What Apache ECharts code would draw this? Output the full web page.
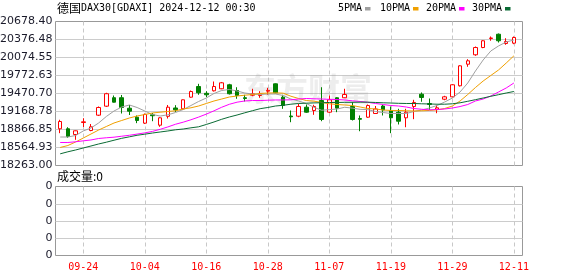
<!DOCTYPE html>
<html><head><meta charset="utf-8">
<script src="https://cdn.jsdelivr.net/npm/echarts@6/dist/echarts.min.js"></script>
<style>html,body{margin:0;padding:0;background:#fff}#c{width:578px;height:276px}</style>
</head><body><div id="c"></div>
<script>
const dates = ['09-19','09-20','09-23','09-24','09-25','09-26','09-27','09-30','10-01','10-02','10-03','10-04','10-07','10-08','10-09','10-10','10-11','10-14','10-15','10-16','10-17','10-18','10-21','10-22','10-23','10-24','10-25','10-28','10-29','10-30','10-31','11-01','11-04','11-05','11-06','11-07','11-08','11-11','11-12','11-13','11-14','11-15','11-18','11-19','11-20','11-21','11-22','11-25','11-26','11-27','11-28','11-29','12-02','12-03','12-04','12-05','12-06','12-09','12-10','12-11'];
const opens = [18879,18879,18783,18984,18850,19107,19258,19400,19400,19224,19073,18973,19113,18939,19088,19228,19214,19409,19588,19474,19516,19550,19617,19521,19400,19442,19437,19509,19633,19409,19093,19090,19241,19186,19353,19157,19399,19399,19253,19050,19073,19135,19261,19186,19157,19063,19253,19459,19303,19207,19375,19415,19600,19962,20120,20242,20393,20465,20309,20315];
const closes = [19001,18749,18845,18996,18912,19236,19467,19325,19236,19174,19018,19119,19098,19063,19241,19197,19365,19504,19483,19449,19588,19650,19466,19437,19387,19466,19466,19524,19483,19269,19080,19253,19157,19253,19035,19365,19225,19454,19035,19039,19269,19211,19194,19063,19006,19157,19320,19404,19286,19231,19415,19617,19935,20019,20242,20355,20402,20355,20343,20410];
const lows = [18805,18728,18694,18909,18838,19093,19244,19320,19135,19110,18973,18959,19006,18912,19051,19160,19202,19399,19449,19409,19504,19543,19454,19382,19337,19425,19399,19449,19476,19214,18989,19073,19147,19113,19006,19147,19157,19395,19018,18838,19063,19127,19102,18805,18951,18905,19040,19332,19197,19140,19358,19404,19588,19919,20103,20231,20355,20326,20288,20298];
const highs = [19030,18905,18850,19056,18959,19253,19483,19437,19446,19278,19102,19135,19144,19073,19278,19275,19370,19521,19633,19509,19672,19664,19633,19576,19449,19550,19509,19566,19639,19449,19186,19298,19286,19281,19576,19437,19409,19550,19325,19102,19286,19261,19281,19253,19214,19214,19365,19488,19387,19275,19432,19627,19945,20046,20259,20365,20427,20477,20398,20427];
const ma5 = [18741,18741,18766,18842,18892,18976,19085,19177,19244,19278,19236,19177,19118,19093,19113,19152,19202,19269,19337,19395,19471,19521,19538,19513,19479,19462,19454,19462,19462,19437,19378,19345,19303,19240,19190,19200,19210,19240,19225,19205,19200,19169,19152,19135,19135,19135,19169,19194,19227,19269,19328,19395,19496,19647,19848,20033,20184,20268,20335,20368];
const ma10 = [18565,18598,18657,18724,18791,18858,18917,18976,19018,19060,19093,19118,19144,19157,19169,19181,19211,19231,19261,19303,19345,19378,19412,19429,19442,19454,19471,19479,19482,19476,19425,19387,19353,19342,19320,19298,19286,19278,19269,19244,19219,19211,19194,19186,19186,19181,19177,19181,19186,19197,19219,19261,19345,19454,19571,19680,19773,19865,19982,20103];
const ma20 = [18649,18649,18661,18677,18691,18716,18728,18738,18754,18770,18790,18810,18835,18870,18910,18955,18990,19030,19075,19125,19180,19240,19290,19325,19345,19353,19353,19358,19362,19362,19365,19378,19387,19382,19378,19373,19370,19362,19348,19337,19323,19303,19286,19269,19261,19244,19219,19206,19197,19202,19211,19227,19252,19286,19345,19378,19429,19496,19563,19647];
const ma30 = [18459,18493,18523,18557,18590,18624,18654,18687,18719,18744,18770,18788,18808,18825,18842,18862,18875,18895,18912,18951,18993,19038,19077,19110,19147,19182,19216,19236,19261,19273,19291,19303,19308,19313,19316,19320,19320,19323,19323,19325,19325,19320,19315,19311,19306,19303,19303,19298,19295,19291,19291,19298,19315,19340,19367,19395,19424,19451,19479,19504];
const priceTicks = ['18263.00','18564.93','18866.85','19168.78','19470.70','19772.63','20074.55','20376.48','20678.40'];
const volTicks = ['0','0','0','0','0'];
const maNames = ['5PMA','10PMA','20PMA','30PMA'];
const maSeries = [ma5, ma10, ma20, ma30];
const maColors = ['#a0a0a0','#f0a000','#ff00ff','#0a6b34'];
const titleText = '德国DAX30[GDAXI] 2024-12-12 00:30';
const volText = '成交量:0';

const yMin = 18263.00, yMax = 20678.40;
const mono = "'DejaVu Sans Mono','Liberation Mono',monospace";
const sans = "'DejaVu Sans',sans-serif";
const cjk = "'Noto Sans CJK SC',sans-serif";
const showAt = (i) => (i - 3) % 8 === 0;
const inner = (n) => (i) => i > 0 && i < n - 1;

const kData = dates.map((d, i) => [opens[i], closes[i], lows[i], highs[i]]);

const chart = echarts.init(document.getElementById('c'), null, {renderer: 'canvas'});

const frameGrid = (top, height) => ({left: 55.5, top: top + 0.5, width: 467, height: height, show: true, borderColor: '#999', borderWidth: 1, backgroundColor: 'transparent', containLabel: false, outerBoundsMode: 'none'});
const dataGrid = (top, height) => ({left: 60.2, top: top + 0.5, width: 453.7, height: height, show: false, containLabel: false, outerBoundsMode: 'none'});
const hidden = {axisLine: {show: false}, axisTick: {show: false}, axisLabel: {show: false}, splitLine: {show: false}};

const legendGraphics = [];
const legendX = [338, 380, 426, 472];
maNames.forEach((n, k) => {
  legendGraphics.push({type: 'text', left: legendX[k], top: 3, style: {text: n, fill: '#000', font: '10px ' + mono}});
  legendGraphics.push({type: 'rect', shape: {x: legendX[k] + n.length * 6 + 3, y: 7, width: 5.5, height: 3.5}, style: {fill: maColors[k]}});
});

const option = {
  animation: false,
  backgroundColor: '#fff',
  grid: [frameGrid(21, 144), dataGrid(21, 144), frameGrid(186, 69), dataGrid(186, 69)],
  xAxis: [
    Object.assign({type: 'value', gridIndex: 0, min: 0, max: 1}, hidden),
    {type: 'category', gridIndex: 1, data: dates, boundaryGap: false,
      axisLine: {show: false}, axisTick: {show: false}, axisLabel: {show: false},
      splitLine: {show: true, interval: showAt, lineStyle: {color: '#c8c8c8', type: [4, 3], width: 1}}},
    Object.assign({type: 'value', gridIndex: 2, min: 0, max: 1}, hidden),
    {type: 'category', gridIndex: 3, data: dates, boundaryGap: false,
      axisLine: {show: false}, axisTick: {show: false},
      axisLabel: {show: true, interval: showAt, color: '#ff0000', fontFamily: mono, fontSize: 10, margin: 7},
      splitLine: {show: true, interval: showAt, lineStyle: {color: '#c8c8c8', type: [4, 3], width: 1}}}
  ],
  yAxis: [
    {type: 'category', gridIndex: 0, data: priceTicks, boundaryGap: false,
      axisLine: {show: false}, axisTick: {show: false},
      axisLabel: {show: true, interval: 0, color: '#1a1a2a', fontFamily: sans, fontSize: 11, margin: 3},
      splitLine: {show: true, interval: inner(priceTicks.length), lineStyle: {color: '#cccccc', width: 1}}},
    Object.assign({type: 'value', gridIndex: 1, min: yMin, max: yMax, scale: true}, hidden),
    {type: 'category', gridIndex: 2, data: volTicks, boundaryGap: false,
      axisLine: {show: false}, axisTick: {show: false},
      axisLabel: {show: true, interval: 0, color: '#1a1a2a', fontFamily: sans, fontSize: 11, margin: 3},
      splitLine: {show: true, interval: inner(volTicks.length), lineStyle: {color: '#cccccc', width: 1}}},
    Object.assign({type: 'value', gridIndex: 3, min: 0, max: 1}, hidden)
  ],
  graphic: [
    {type: 'text', left: 57, top: 2, z: 10, style: {text: '{c|德国}{m|' + titleText.slice(2) + '}', rich: {c: {fontSize: 12, fontFamily: cjk, fill: '#000'}, m: {fontSize: 10, fontFamily: mono, fill: '#000'}}}},
    {type: 'text', left: 57, top: 170, z: 10, style: {text: volText, fill: '#000', font: '12px ' + cjk}},
    {type: 'text', x: 308, y: 89, z: 1, style: {text: '东方财富', fill: 'rgba(140,140,140,0.16)', font: 'bold 32px ' + cjk, align: 'center', verticalAlign: 'middle'}}
  ].concat(legendGraphics),
  series: [
    {type: 'candlestick', name: 'K', xAxisIndex: 1, yAxisIndex: 1, data: kData, barWidth: 4, clip: false, z: 3,
      itemStyle: {color: '#ffffff', color0: '#008000', borderColor: '#ff0000', borderColor0: '#008000', borderWidth: 1}}
  ].concat(maNames.map((n, k) => ({
    type: 'line', name: n, xAxisIndex: 1, yAxisIndex: 1, data: maSeries[k], symbol: 'none', clip: false, z: 4,
    lineStyle: {color: maColors[k], width: 1}, itemStyle: {color: maColors[k]}
  })))
};
chart.setOption(option);
</script>
</body></html>
